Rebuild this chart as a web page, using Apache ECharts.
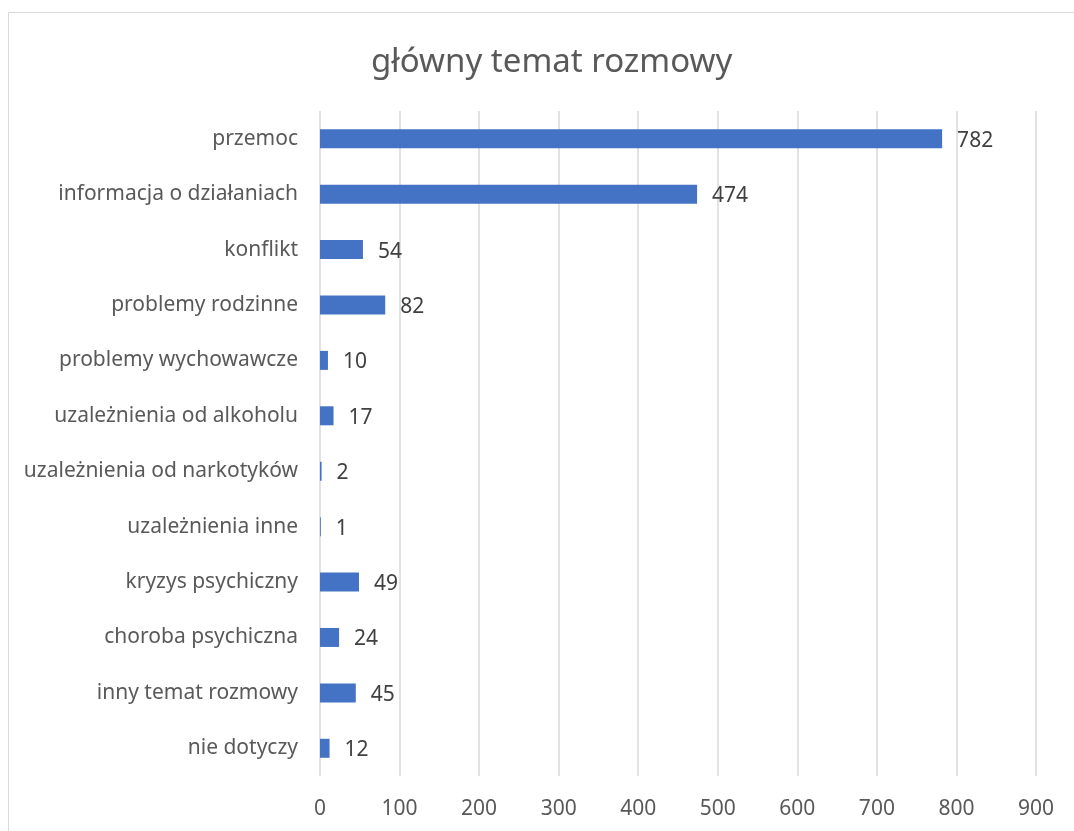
<!DOCTYPE html>
<html>
<head>
<meta charset="utf-8">
<script src="https://cdn.jsdelivr.net/npm/echarts@6/dist/echarts.min.js"></script>
<style>
html,body{margin:0;padding:0;background:#fff;}
#c{width:1074px;height:831px;}
</style>
</head>
<body>
<div id="c"></div>
<script>
const titleText = 'główny temat rozmowy';
const categories = [
  'przemoc',
  'informacja o działaniach',
  'konflikt',
  'problemy rodzinne',
  'problemy wychowawcze',
  'uzależnienia od alkoholu',
  'uzależnienia od narkotyków',
  'uzależnienia inne',
  'kryzys psychiczny',
  'choroba psychiczna',
  'inny temat rozmowy',
  'nie dotyczy'
];
const values = [782, 474, 54, 82, 10, 17, 2, 1, 49, 24, 45, 12];
const xTicks = [0, 100, 200, 300, 400, 500, 600, 700, 800, 900];

const chart = echarts.init(document.getElementById('c'), null, {renderer: 'canvas'});
const font = 'Noto Sans';
chart.setOption({
  backgroundColor: '#ffffff',
  animation: false,
  graphic: [{
    type: 'rect',
    shape: {x: 8.5, y: 12.5, width: 1200, height: 1000},
    style: {fill: 'none', stroke: '#d9d9d9', lineWidth: 1},
    silent: true
  }],
  title: {
    text: titleText,
    left: 366,
    top: 41,
    textStyle: {fontFamily: font, fontSize: 33, fontWeight: 'normal', color: '#595959'}
  },
  grid: {left: 320, right: 38, top: 111, bottom: 55, containLabel: false},
  xAxis: {
    type: 'value',
    min: xTicks[0],
    max: xTicks[xTicks.length - 1],
    interval: 100,
    axisLine: {show: false},
    axisTick: {show: false},
    splitLine: {show: true, lineStyle: {color: '#d9d9d9', width: 1.5}},
    axisLabel: {fontFamily: font, fontSize: 21, color: '#595959', margin: 23}
  },
  yAxis: {
    type: 'category',
    data: categories,
    inverse: true,
    axisLine: {show: false},
    axisTick: {show: false},
    axisLabel: {fontFamily: font, fontSize: 21, color: '#595959', margin: 22}
  },
  series: [{
    type: 'bar',
    data: values,
    barWidth: 19,
    itemStyle: {color: '#4472c4'},
    label: {
      show: true,
      position: 'right',
      distance: 15,
      fontFamily: font,
      fontSize: 21,
      color: '#404040',
      offset: [0, 2]
    }
  }]
});
</script>
</body>
</html>
